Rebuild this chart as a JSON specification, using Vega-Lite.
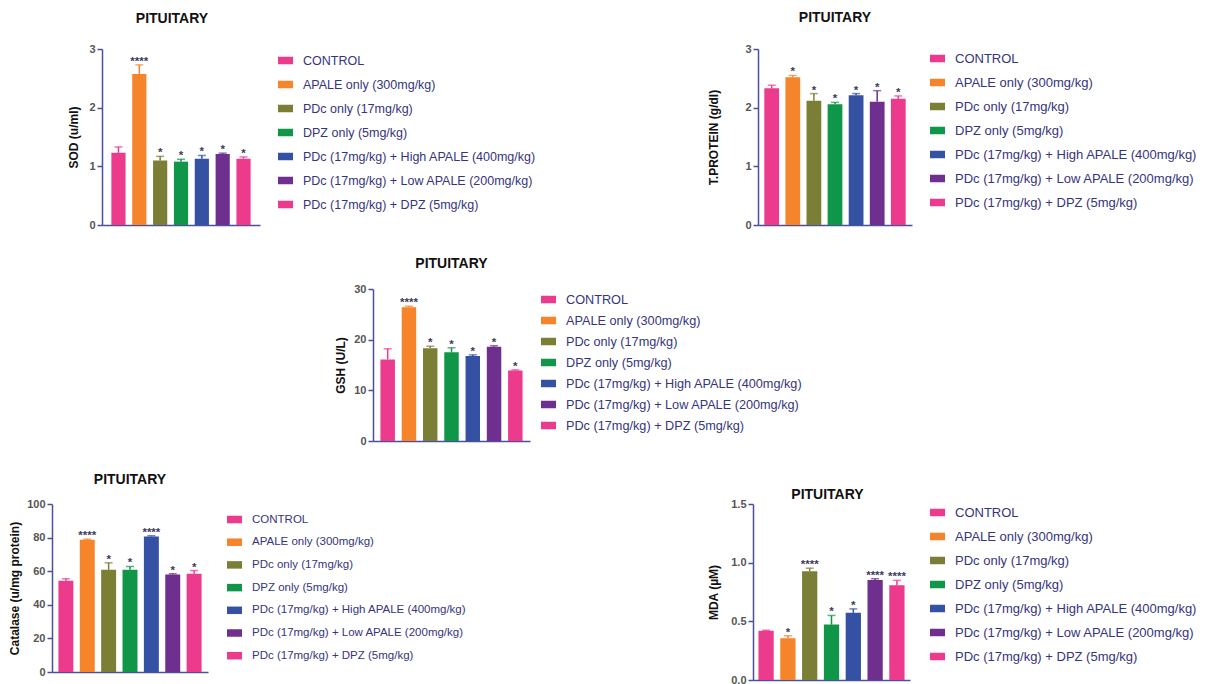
{
  "$schema": "https://vega.github.io/schema/vega-lite/v6.json",
  "padding": {"left": 0, "top": 11, "right": 0, "bottom": 0},
  "autosize": {"type": "pad"},
  "background": "white",
  "datasets": {
    "sod": [
      {"g": "CONTROL", "v": 1.23, "e": 1.33, "s": ""},
      {"g": "APALE only (300mg/kg)", "v": 2.575, "e": 2.73, "s": "****"},
      {"g": "PDc only (17mg/kg)", "v": 1.10, "e": 1.17, "s": "*"},
      {"g": "DPZ only (5mg/kg)", "v": 1.08, "e": 1.12, "s": "*"},
      {"g": "PDc (17mg/kg) + High APALE (400mg/kg)", "v": 1.13, "e": 1.185, "s": "*"},
      {"g": "PDc (17mg/kg) + Low APALE (200mg/kg)", "v": 1.21, "e": 1.225, "s": "*"},
      {"g": "PDc (17mg/kg) + DPZ (5mg/kg)", "v": 1.13, "e": 1.16, "s": "*"}
    ],
    "tp": [
      {"g": "CONTROL", "v": 2.33, "e": 2.38, "s": ""},
      {"g": "APALE only (300mg/kg)", "v": 2.52, "e": 2.55, "s": "*"},
      {"g": "PDc only (17mg/kg)", "v": 2.12, "e": 2.24, "s": "*"},
      {"g": "DPZ only (5mg/kg)", "v": 2.06, "e": 2.09, "s": "*"},
      {"g": "PDc (17mg/kg) + High APALE (400mg/kg)", "v": 2.21, "e": 2.24, "s": "*"},
      {"g": "PDc (17mg/kg) + Low APALE (200mg/kg)", "v": 2.10, "e": 2.29, "s": "*"},
      {"g": "PDc (17mg/kg) + DPZ (5mg/kg)", "v": 2.15, "e": 2.20, "s": "*"}
    ],
    "gsh": [
      {"g": "CONTROL", "v": 16.1, "e": 18.2, "s": ""},
      {"g": "APALE only (300mg/kg)", "v": 26.4, "e": 26.6, "s": "****"},
      {"g": "PDc only (17mg/kg)", "v": 18.3, "e": 18.7, "s": "*"},
      {"g": "DPZ only (5mg/kg)", "v": 17.5, "e": 18.4, "s": "*"},
      {"g": "PDc (17mg/kg) + High APALE (400mg/kg)", "v": 16.8, "e": 17.0, "s": "*"},
      {"g": "PDc (17mg/kg) + Low APALE (200mg/kg)", "v": 18.6, "e": 18.8, "s": "*"},
      {"g": "PDc (17mg/kg) + DPZ (5mg/kg)", "v": 13.9, "e": 14.05, "s": "*"}
    ],
    "cat": [
      {"g": "CONTROL", "v": 54.3, "e": 55.5, "s": ""},
      {"g": "APALE only (300mg/kg)", "v": 78.7, "e": 79.1, "s": "****"},
      {"g": "PDc only (17mg/kg)", "v": 60.8, "e": 65.0, "s": "*"},
      {"g": "DPZ only (5mg/kg)", "v": 60.8, "e": 62.8, "s": "*"},
      {"g": "PDc (17mg/kg) + High APALE (400mg/kg)", "v": 80.7, "e": 81.1, "s": "****"},
      {"g": "PDc (17mg/kg) + Low APALE (200mg/kg)", "v": 58.1, "e": 58.5, "s": "*"},
      {"g": "PDc (17mg/kg) + DPZ (5mg/kg)", "v": 58.5, "e": 60.4, "s": "*"}
    ],
    "mda": [
      {"g": "CONTROL", "v": 0.419, "e": 0.425, "s": ""},
      {"g": "APALE only (300mg/kg)", "v": 0.355, "e": 0.377, "s": "*"},
      {"g": "PDc only (17mg/kg)", "v": 0.927, "e": 0.953, "s": "****"},
      {"g": "DPZ only (5mg/kg)", "v": 0.472, "e": 0.55, "s": "*"},
      {"g": "PDc (17mg/kg) + High APALE (400mg/kg)", "v": 0.573, "e": 0.606, "s": "*"},
      {"g": "PDc (17mg/kg) + Low APALE (200mg/kg)", "v": 0.852, "e": 0.863, "s": "****"},
      {"g": "PDc (17mg/kg) + DPZ (5mg/kg)", "v": 0.807, "e": 0.849, "s": "****"}
    ],
    "blank": [{}]
  },
  "spacing": 27,
  "resolve": {"scale": {"color": "independent"}, "legend": {"color": "independent"}},
  "vconcat": [
    {
      "bounds": "flush", "spacing": 0,
      "resolve": {"scale": {"color": "independent", "y": "independent"}, "legend": {"color": "independent"}},
      "hconcat": [
        {"width": 102, "height": 1, "data": {"name": "blank"}, "mark": {"type": "point", "opacity": 0}, "encoding": {}},
        {
          "width": 158, "height": 176,
          "title": {"text": "PITUITARY", "offset": 17, "dx": -9},
          "data": {"name": "sod"},
          "encoding": {
            "x": {"field": "g", "type": "nominal", "sort": null, "scale": {"domain": ["CONTROL", "APALE only (300mg/kg)", "PDc only (17mg/kg)", "DPZ only (5mg/kg)", "PDc (17mg/kg) + High APALE (400mg/kg)", "PDc (17mg/kg) + Low APALE (200mg/kg)", "PDc (17mg/kg) + DPZ (5mg/kg)"], "paddingInner": 0.32, "paddingOuter": 0.45}, "axis": {"labels": false, "ticks": false, "title": null}}
          },
          "layer": [
            {"mark": {"type": "bar"}, "encoding": {
              "y": {"field": "v", "type": "quantitative", "scale": {"domain": [0, 3], "nice": false}, "axis": {"values": [0, 1, 2, 3], "tickCount": 10, "format": "d", "labelOverlap": false, "title": "SOD (u/ml)", "titlePadding": 8}},
              "color": {"field": "g", "type": "nominal", "sort": null, "scale": {"domain": ["CONTROL", "APALE only (300mg/kg)", "PDc only (17mg/kg)", "DPZ only (5mg/kg)", "PDc (17mg/kg) + High APALE (400mg/kg)", "PDc (17mg/kg) + Low APALE (200mg/kg)", "PDc (17mg/kg) + DPZ (5mg/kg)"], "range": ["#ec3a8c", "#f5842b", "#7b7f35", "#109648", "#3451a3", "#6e2f8f", "#ec3a8c"]},
                "legend": {"title": null, "orient": "none", "legendX": 176, "legendY": 4, "rowPadding": 10, "labelFontSize": 12.5}}}},
            {"mark": {"type": "rule", "strokeWidth": 1.5}, "encoding": {"y": {"field": "v", "type": "quantitative"}, "y2": {"field": "e"}, "color": {"field": "g", "type": "nominal", "legend": null}}},
            {"mark": {"type": "tick", "thickness": 1.5, "size": 8}, "encoding": {"y": {"field": "e", "type": "quantitative"}, "color": {"field": "g", "type": "nominal", "legend": null}}},
            {"mark": {"type": "text", "dy": -3, "fontSize": 11.5, "fontWeight": "bold"}, "encoding": {"y": {"field": "e", "type": "quantitative"}, "text": {"field": "s"}, "color": {"value": "#3a3a5a"}}}
          ]
        },
        {"width": 498, "height": 1, "data": {"name": "blank"}, "mark": {"type": "point", "opacity": 0}, "encoding": {}},
        {
          "width": 154, "height": 176,
          "title": {"text": "PITUITARY", "offset": 18},
          "data": {"name": "tp"},
          "encoding": {
            "x": {"field": "g", "type": "nominal", "sort": null, "scale": {"domain": ["CONTROL", "APALE only (300mg/kg)", "PDc only (17mg/kg)", "DPZ only (5mg/kg)", "PDc (17mg/kg) + High APALE (400mg/kg)", "PDc (17mg/kg) + Low APALE (200mg/kg)", "PDc (17mg/kg) + DPZ (5mg/kg)"], "paddingInner": 0.3, "paddingOuter": 0.3}, "axis": {"labels": false, "ticks": false, "title": null}}
          },
          "layer": [
            {"mark": {"type": "bar"}, "encoding": {
              "y": {"field": "v", "type": "quantitative", "scale": {"domain": [0, 3], "nice": false}, "axis": {"values": [0, 1, 2, 3], "tickCount": 10, "format": "d", "labelOverlap": false, "title": "T.PROTEIN (g/dl)", "titlePadding": 24}},
              "color": {"field": "g", "type": "nominal", "sort": null, "scale": {"domain": ["CONTROL", "APALE only (300mg/kg)", "PDc only (17mg/kg)", "DPZ only (5mg/kg)", "PDc (17mg/kg) + High APALE (400mg/kg)", "PDc (17mg/kg) + Low APALE (200mg/kg)", "PDc (17mg/kg) + DPZ (5mg/kg)"], "range": ["#ec3a8c", "#f5842b", "#7b7f35", "#109648", "#3451a3", "#6e2f8f", "#ec3a8c"]},
                "legend": {"title": null, "orient": "none", "legendX": 172, "legendY": 2, "rowPadding": 9, "labelFontSize": 13}}}},
            {"mark": {"type": "rule", "strokeWidth": 1.5}, "encoding": {"y": {"field": "v", "type": "quantitative"}, "y2": {"field": "e"}, "color": {"field": "g", "type": "nominal", "legend": null}}},
            {"mark": {"type": "tick", "thickness": 1.5, "size": 8}, "encoding": {"y": {"field": "e", "type": "quantitative"}, "color": {"field": "g", "type": "nominal", "legend": null}}},
            {"mark": {"type": "text", "dy": -3, "fontSize": 11.5, "fontWeight": "bold"}, "encoding": {"y": {"field": "e", "type": "quantitative"}, "text": {"field": "s"}, "color": {"value": "#3a3a5a"}}}
          ]
        }
      ]
    },
    {
      "bounds": "flush", "spacing": 0,
      "resolve": {"scale": {"color": "independent", "y": "independent"}, "legend": {"color": "independent"}},
      "hconcat": [
        {"width": 373, "height": 1, "data": {"name": "blank"}, "mark": {"type": "point", "opacity": 0}, "encoding": {}},
        {
          "width": 157, "height": 152,
          "title": {"text": "PITUITARY", "offset": 12},
          "data": {"name": "gsh"},
          "encoding": {
            "x": {"field": "g", "type": "nominal", "sort": null, "scale": {"domain": ["CONTROL", "APALE only (300mg/kg)", "PDc only (17mg/kg)", "DPZ only (5mg/kg)", "PDc (17mg/kg) + High APALE (400mg/kg)", "PDc (17mg/kg) + Low APALE (200mg/kg)", "PDc (17mg/kg) + DPZ (5mg/kg)"], "paddingInner": 0.32, "paddingOuter": 0.35}, "axis": {"labels": false, "ticks": false, "title": null}}
          },
          "layer": [
            {"mark": {"type": "bar"}, "encoding": {
              "y": {"field": "v", "type": "quantitative", "scale": {"domain": [0, 30], "nice": false}, "axis": {"values": [0, 10, 20, 30], "tickCount": 10, "format": "d", "labelOverlap": false, "title": "GSH (U/L)", "titlePadding": 6}},
              "color": {"field": "g", "type": "nominal", "sort": null, "scale": {"domain": ["CONTROL", "APALE only (300mg/kg)", "PDc only (17mg/kg)", "DPZ only (5mg/kg)", "PDc (17mg/kg) + High APALE (400mg/kg)", "PDc (17mg/kg) + Low APALE (200mg/kg)", "PDc (17mg/kg) + DPZ (5mg/kg)"], "range": ["#ec3a8c", "#f5842b", "#7b7f35", "#109648", "#3451a3", "#6e2f8f", "#ec3a8c"]},
                "legend": {"title": null, "orient": "none", "legendX": 168, "legendY": 3, "rowPadding": 6, "labelFontSize": 12.7}}}},
            {"mark": {"type": "rule", "strokeWidth": 1.5}, "encoding": {"y": {"field": "v", "type": "quantitative"}, "y2": {"field": "e"}, "color": {"field": "g", "type": "nominal", "legend": null}}},
            {"mark": {"type": "tick", "thickness": 1.5, "size": 8}, "encoding": {"y": {"field": "e", "type": "quantitative"}, "color": {"field": "g", "type": "nominal", "legend": null}}},
            {"mark": {"type": "text", "dy": -3, "fontSize": 11.5, "fontWeight": "bold"}, "encoding": {"y": {"field": "e", "type": "quantitative"}, "text": {"field": "s"}, "color": {"value": "#3a3a5a"}}}
          ]
        }
      ]
    },
    {
      "bounds": "flush", "spacing": 0,
      "resolve": {"scale": {"color": "independent", "y": "independent"}, "legend": {"color": "independent"}},
      "hconcat": [
        {"width": 52, "height": 1, "data": {"name": "blank"}, "mark": {"type": "point", "opacity": 0}, "encoding": {}},
        {
          "width": 156, "height": 168,
          "title": {"text": "PITUITARY", "offset": 11},
          "data": {"name": "cat"},
          "encoding": {
            "x": {"field": "g", "type": "nominal", "sort": null, "scale": {"domain": ["CONTROL", "APALE only (300mg/kg)", "PDc only (17mg/kg)", "DPZ only (5mg/kg)", "PDc (17mg/kg) + High APALE (400mg/kg)", "PDc (17mg/kg) + Low APALE (200mg/kg)", "PDc (17mg/kg) + DPZ (5mg/kg)"], "paddingInner": 0.3, "paddingOuter": 0.3}, "axis": {"labels": false, "ticks": false, "title": null}}
          },
          "layer": [
            {"mark": {"type": "bar"}, "encoding": {
              "y": {"field": "v", "type": "quantitative", "scale": {"domain": [0, 100], "nice": false}, "axis": {"values": [0, 20, 40, 60, 80, 100], "tickCount": 10, "format": "d", "labelOverlap": false, "title": "Catalase (u/mg protein)", "titlePadding": 5}},
              "color": {"field": "g", "type": "nominal", "sort": null, "scale": {"domain": ["CONTROL", "APALE only (300mg/kg)", "PDc only (17mg/kg)", "DPZ only (5mg/kg)", "PDc (17mg/kg) + High APALE (400mg/kg)", "PDc (17mg/kg) + Low APALE (200mg/kg)", "PDc (17mg/kg) + DPZ (5mg/kg)"], "range": ["#ec3a8c", "#f5842b", "#7b7f35", "#109648", "#3451a3", "#6e2f8f", "#ec3a8c"]},
                "legend": {"title": null, "orient": "none", "legendX": 175, "legendY": 8, "rowPadding": 9.7, "labelFontSize": 11.5}}}},
            {"mark": {"type": "rule", "strokeWidth": 1.5}, "encoding": {"y": {"field": "v", "type": "quantitative"}, "y2": {"field": "e"}, "color": {"field": "g", "type": "nominal", "legend": null}}},
            {"mark": {"type": "tick", "thickness": 1.5, "size": 8}, "encoding": {"y": {"field": "e", "type": "quantitative"}, "color": {"field": "g", "type": "nominal", "legend": null}}},
            {"mark": {"type": "text", "dy": -3, "fontSize": 11.5, "fontWeight": "bold"}, "encoding": {"y": {"field": "e", "type": "quantitative"}, "text": {"field": "s"}, "color": {"value": "#3a3a5a"}}}
          ]
        },
        {"width": 545, "height": 1, "data": {"name": "blank"}, "mark": {"type": "point", "opacity": 0}, "encoding": {}},
        {
          "width": 157, "height": 176,
          "title": {"text": "PITUITARY", "offset": -4, "dx": -4},
          "data": {"name": "mda"},
          "encoding": {
            "x": {"field": "g", "type": "nominal", "sort": null, "scale": {"domain": ["CONTROL", "APALE only (300mg/kg)", "PDc only (17mg/kg)", "DPZ only (5mg/kg)", "PDc (17mg/kg) + High APALE (400mg/kg)", "PDc (17mg/kg) + Low APALE (200mg/kg)", "PDc (17mg/kg) + DPZ (5mg/kg)"], "paddingInner": 0.3, "paddingOuter": 0.25}, "axis": {"labels": false, "ticks": false, "title": null}}
          },
          "layer": [
            {"mark": {"type": "bar"}, "encoding": {
              "y": {"field": "v", "type": "quantitative", "scale": {"domain": [0, 1.5], "nice": false}, "axis": {"values": [0, 0.5, 1, 1.5], "tickCount": 10, "format": ".1f", "labelOverlap": false, "title": "MDA (µM)", "titlePadding": 10}},
              "color": {"field": "g", "type": "nominal", "sort": null, "scale": {"domain": ["CONTROL", "APALE only (300mg/kg)", "PDc only (17mg/kg)", "DPZ only (5mg/kg)", "PDc (17mg/kg) + High APALE (400mg/kg)", "PDc (17mg/kg) + Low APALE (200mg/kg)", "PDc (17mg/kg) + DPZ (5mg/kg)"], "range": ["#ec3a8c", "#f5842b", "#7b7f35", "#109648", "#3451a3", "#6e2f8f", "#ec3a8c"]},
                "legend": {"title": null, "orient": "none", "legendX": 177, "legendY": 1, "rowPadding": 9, "labelFontSize": 13}}}},
            {"mark": {"type": "rule", "strokeWidth": 1.5}, "encoding": {"y": {"field": "v", "type": "quantitative"}, "y2": {"field": "e"}, "color": {"field": "g", "type": "nominal", "legend": null}}},
            {"mark": {"type": "tick", "thickness": 1.5, "size": 8}, "encoding": {"y": {"field": "e", "type": "quantitative"}, "color": {"field": "g", "type": "nominal", "legend": null}}},
            {"mark": {"type": "text", "dy": -3, "fontSize": 11.5, "fontWeight": "bold"}, "encoding": {"y": {"field": "e", "type": "quantitative"}, "text": {"field": "s"}, "color": {"value": "#3a3a5a"}}}
          ]
        }
      ]
    }
  ],
  "config": {
    "view": {"stroke": null},
    "font": "Liberation Sans",
    "axis": {"domainColor": "#4b4f9c", "domainWidth": 1.5, "tickColor": "#4b4f9c", "tickWidth": 1.5, "tickSize": 5, "labelFont": "Liberation Sans", "labelFontWeight": "bold", "labelColor": "#555555", "labelFontSize": 11, "labelPadding": 2, "labelOverlap": false, "titleFont": "Liberation Sans", "titleFontWeight": "bold", "titleFontSize": 12, "titleColor": "#111111", "grid": false},
    "title": {"font": "Liberation Sans", "fontSize": 14, "fontWeight": "bold", "color": "#111111", "anchor": "middle"},
    "legend": {"symbolType": "M-1,-0.5H1V0.5H-1Z", "symbolSize": 225, "symbolStrokeWidth": 0, "symbolOpacity": 1, "labelFont": "Liberation Sans", "labelColor": "#35357d", "labelOffset": 10, "labelLimit": 400, "padding": 0}
  }
}
